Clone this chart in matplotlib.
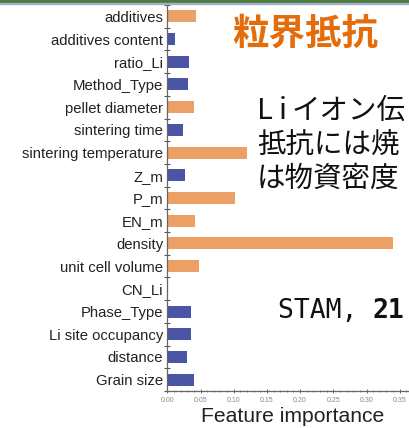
import matplotlib.pyplot as plt
from matplotlib.patches import Rectangle
from matplotlib.ticker import MultipleLocator, FixedLocator

features = ["additives", "additives content", "ratio_Li", "Method_Type",
            "pellet diameter", "sintering time", "sintering temperature",
            "Z_m", "P_m", "EN_m", "density", "unit cell volume", "CN_Li",
            "Phase_Type", "Li site occupancy", "distance", "Grain size"]
importance = [0.043, 0.011, 0.033, 0.031, 0.040, 0.023, 0.120, 0.027, 0.102,
              0.042, 0.340, 0.047, 0.0, 0.035, 0.035, 0.029, 0.040]
# orange = process / material descriptors, blue = the rest
group = ["o", "b", "b", "b", "o", "b", "o", "b", "o",
         "o", "o", "o", "b", "b", "b", "b", "b"]

title_jp = "粒界抵抗"
note_lines = ["イオン伝", "抵抗には焼", "は物資密度"]

ORANGE = "#ECA066"
BLUE = "#4B55A6"

W, H = 409, 428
fig = plt.figure(figsize=(W / 100, H / 100), dpi=100)

def fx(px):
    return px / W

def fy(py):
    return 1 - py / H

# slide header strip
fig.patches.append(Rectangle((0, fy(2.8)), 1, 2.8 / H, transform=fig.transFigure,
                             color="#4E7A3B", zorder=0))
fig.patches.append(Rectangle((0, fy(4.0)), 1, 1.2 / H, transform=fig.transFigure,
                             color="#9DB2CE", zorder=0))

ax = fig.add_axes([fx(167.3), fy(391), 1 - fx(167.3), (391 - 5) / H])
ypos = list(range(len(features)))
colors = [ORANGE if g == "o" else BLUE for g in group]
ax.barh(ypos, importance, height=0.53, color=colors)

ax.set_xlim(0, 0.364)
ax.set_ylim(16.5, -0.5)
ax.set_yticks(ypos)
ax.set_yticklabels(features, fontsize=10.7, family="Liberation Sans", color="#222222")
ax.yaxis.set_minor_locator(FixedLocator([i - 0.5 for i in range(len(features) + 1)]))
ax.tick_params(axis="y", which="major", length=0, pad=3)
ax.tick_params(axis="y", which="minor", length=4, width=0.8, direction="inout", color="#555555")

ax.xaxis.set_major_locator(MultipleLocator(0.05))
ax.xaxis.set_minor_locator(MultipleLocator(0.01))
ax.set_xticklabels(["%.2f" % v for v in ax.get_xticks()])
ax.tick_params(axis="x", which="major", labelsize=5, labelcolor="#888888", length=3,
               width=0.7, direction="inout", color="#666666", pad=3)
ax.tick_params(axis="x", which="minor", length=2, width=0.6, direction="inout", color="#777777")
for lab in ax.get_xticklabels():
    lab.set_family("Liberation Sans")

for side in ["top", "right"]:
    ax.spines[side].set_visible(False)
for side in ["left", "bottom"]:
    ax.spines[side].set_color("#666666")
    ax.spines[side].set_linewidth(0.9)

ax.set_xlabel("Feature importance", fontsize=15.2, family="Liberation Sans", color="#222222")
ax.xaxis.set_label_coords((293 - 167.3) / (W - 167.3), -(417 - 391) / (391 - 5), transform=ax.transAxes)
ax.xaxis.label.set_verticalalignment("center")

jp = ["Noto Sans CJK JP", "DejaVu Sans"]
fig.text(fx(232), fy(34), title_jp, fontsize=26.3, fontweight="bold", color="#E46C0A",
         family=jp, ha="left", va="center")

# note block, widely spaced "L i" in front of the first line
fig.text(fx(257), fy(111), "L", fontsize=21, color="#111111", family=jp, ha="left", va="center")
fig.text(fx(279), fy(111), "i", fontsize=21, color="#111111", family=jp, ha="left", va="center")
note_x = [292, 257, 257]
for i, line in enumerate(note_lines):
    fig.text(fx(note_x[i]), fy(111 + 34 * i), line, fontsize=20.5, color="#111111",
             family=jp, ha="left", va="center")

fig.text(fx(278), fy(311), "STAM, ", fontsize=19, family="DejaVu Sans Mono",
         color="#111111", ha="left", va="center")
fig.text(fx(373), fy(311), "21", fontsize=19, family="DejaVu Sans Mono",
         fontweight="bold", color="#111111", ha="left", va="center")

fig.savefig("out.png", dpi=100)
